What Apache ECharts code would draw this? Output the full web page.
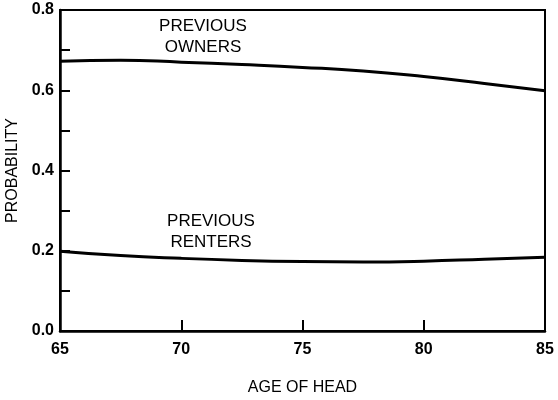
<!DOCTYPE html>
<html>
<head>
<meta charset="utf-8">
<script src="https://cdn.jsdelivr.net/npm/echarts@6/dist/echarts.min.js"></script>
<style>
  html, body { margin: 0; padding: 0; background: #fff; }
  #chart { width: 558px; height: 400px; }
</style>
</head>
<body>
<div id="chart"></div>
<script>
// values
const ages = [65, 67.5, 70, 72.5, 75, 77.5, 80, 82.5, 85]
const previousOwners = [0.672, 0.675, 0.670, 0.664, 0.657, 0.648, 0.634, 0.617, 0.599]
const previousRenters = [0.199, 0.188, 0.181, 0.176, 0.173, 0.172, 0.174, 0.179, 0.184]
const xTicks = [65, 70, 75, 80, 85]
const yTicks = [0.0, 0.2, 0.4, 0.6, 0.8]

const font = 'Liberation Sans, Arial, sans-serif'
const chart = echarts.init(document.getElementById('chart'))

function pairs(values) {
  return ages.map((a, i) => [a, values[i]])
}

function curveLabel(text, x, y) {
  return {
    type: 'text',
    style: {
      text: text, x: x, y: y, align: 'center', verticalAlign: 'middle',
      fill: '#000', font: '17px ' + font, lineHeight: 21
    }
  }
}

const option = {
  animation: false,
  grid: {
    left: 60,
    right: 13,
    top: 10,
    bottom: 69,
    outerBoundsMode: 'none',
    containLabel: false,
    show: true,
    borderColor: '#000',
    borderWidth: 2
  },
  xAxis: {
    type: 'value',
    min: xTicks[0],
    max: xTicks[xTicks.length - 1],
    interval: 5,
    axisLine: { lineStyle: { color: '#000', width: 2.5 } },
    axisTick: { inside: true, length: 11, lineStyle: { color: '#000', width: 2 } },
    axisLabel: {
      color: '#000', fontFamily: font, fontWeight: 'bold', fontSize: 16, margin: 11,
      formatter: v => String(v)
    },
    splitLine: { show: false },
    name: 'AGE OF HEAD',
    nameLocation: 'middle',
    nameGap: 49,
    nameTextStyle: { color: '#000', fontFamily: font, fontSize: 16 }
  },
  yAxis: {
    type: 'value',
    min: yTicks[0],
    max: yTicks[yTicks.length - 1],
    interval: 0.2,
    axisLine: { lineStyle: { color: '#000', width: 2.5 } },
    axisTick: { inside: true, length: 10, lineStyle: { color: '#000', width: 2 } },
    minorTick: { show: true, splitNumber: 2, length: 10, lineStyle: { color: '#000', width: 2 } },
    axisLabel: {
      color: '#000', fontFamily: font, fontWeight: 'bold', fontSize: 16, margin: 6,
      formatter: v => v.toFixed(1)
    },
    splitLine: { show: false },
    name: 'PROBABILITY',
    nameLocation: 'middle',
    nameGap: 39,
    nameTextStyle: { color: '#000', fontFamily: font, fontSize: 16 }
  },
  series: [
    {
      name: 'PREVIOUS OWNERS',
      type: 'line',
      data: pairs(previousOwners),
      smooth: true,
      symbol: 'none',
      lineStyle: { color: '#000', width: 3 }
    },
    {
      name: 'PREVIOUS RENTERS',
      type: 'line',
      data: pairs(previousRenters),
      smooth: true,
      symbol: 'none',
      lineStyle: { color: '#000', width: 3 }
    }
  ],
  graphic: [
    curveLabel('PREVIOUS\nOWNERS', 203, 37),
    curveLabel('PREVIOUS\nRENTERS', 211, 232)
  ]
}

chart.setOption(option)
</script>
</body>
</html>
